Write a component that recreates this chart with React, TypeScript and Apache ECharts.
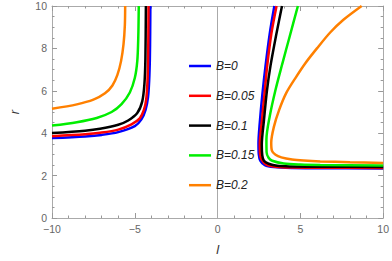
import React, { useEffect, useRef } from "react";
import * as echarts from "echarts";

const names = ["B=0", "B=0.05", "B=0.1", "B=0.15", "B=0.2"];
const colors = ["#0000ff", "#ff0000", "#000000", "#00ee00", "#ff8000"];

const xTicks = [-10, -5, 0, 5, 10];
const yTicks = [0, 2, 4, 6, 8, 10];

// left branches [l, r]
const leftB0 = [[-10, 3.77], [-8, 3.85], [-7, 3.92], [-6, 4.05], [-5, 4.33], [-4.6, 4.65], [-4.35, 5.1], [-4.2, 5.7], [-4.13, 6.5], [-4.09, 7.5], [-4.07, 8.8], [-4.06, 10]];
const leftB005 = [[-10, 3.86], [-8, 3.95], [-7.1, 4.02], [-6, 4.17], [-5.2, 4.42], [-4.7, 4.7], [-4.45, 5.1], [-4.31, 5.6], [-4.23, 6.5], [-4.19, 7.8], [-4.17, 10]];
const leftB01 = [[-10, 4.01], [-8, 4.12], [-7.1, 4.21], [-6, 4.4], [-5.4, 4.6], [-4.85, 4.95], [-4.55, 5.5], [-4.42, 6.3], [-4.36, 7.5], [-4.33, 10]];
const leftB015 = [[-10, 4.36], [-8.5, 4.52], [-7.3, 4.72], [-6.4, 5.0], [-5.8, 5.37], [-5.3, 5.92], [-5.0, 6.6], [-4.85, 7.4], [-4.79, 8.5], [-4.76, 10]];
const leftB02 = [[-10, 5.15], [-8.5, 5.36], [-7.5, 5.58], [-6.8, 5.88], [-6.35, 6.25], [-6.05, 6.75], [-5.83, 7.4], [-5.68, 8.2], [-5.6, 9.1], [-5.58, 10]];

// right branches [l, r]
const rightB0 = [[3.43, 10], [3.15, 8.7], [2.9, 7.2], [2.7, 5.8], [2.55, 4.5], [2.47, 3.5], [2.49, 3.0], [2.58, 2.7], [2.85, 2.49], [3.4, 2.4], [4.5, 2.36], [6, 2.35], [10, 2.34]];
const rightB005 = [[3.56, 10], [3.25, 8.7], [3.0, 7.2], [2.86, 6.07], [2.68, 4.6], [2.55, 3.5], [2.57, 3.0], [2.66, 2.75], [2.95, 2.52], [3.5, 2.42], [4.5, 2.38], [6, 2.37], [10, 2.36]];
const rightB01 = [[3.89, 10], [3.56, 8.72], [3.2, 7.2], [2.98, 6.0], [2.8, 4.6], [2.67, 3.45], [2.7, 2.95], [2.8, 2.7], [3.08, 2.56], [3.6, 2.46], [4.5, 2.43], [6, 2.42], [10, 2.41]];
const rightB015 = [[4.85, 10], [4.35, 8.55], [3.9, 7.25], [3.5, 6.05], [3.15, 4.8], [2.95, 3.7], [2.96, 3.1], [3.08, 2.84], [3.3, 2.7], [4.0, 2.57], [5, 2.52], [6.2, 2.5], [10, 2.48]];
const rightB02 = [[8.7, 10], [7.6, 9.35], [6.8, 8.75], [6.0, 8.0], [5.3, 7.3], [4.7, 6.6], [4.15, 5.9], [3.72, 5.1], [3.4, 4.3], [3.24, 3.55], [3.28, 3.18], [3.5, 2.98], [3.85, 2.86], [4.5, 2.76], [5.2, 2.71], [6.2, 2.67], [8, 2.63], [10, 2.6]];

const leftBranches = [leftB0, leftB005, leftB01, leftB015, leftB02];
const rightBranches = [rightB0, rightB005, rightB01, rightB015, rightB02];

const FONT = "Liberation Sans";

export default function App() {
  const ref = useRef<HTMLDivElement>(null);
  useEffect(() => {
    if (!ref.current) return;
    const chart = echarts.init(ref.current, null, { renderer: "svg" });
    const fmt = (v: number) => (v < 0 ? "\u2212" + Math.abs(v) : String(v));
    const axisCommon = {
      axisLine: { show: true, onZero: false, lineStyle: { color: "#aaaaaa", width: 1 } },
      axisTick: { show: true, inside: true, length: 5, lineStyle: { color: "#999999" } },
      minorTick: { show: true, length: 2.5, lineStyle: { color: "#999999" } },
      splitLine: { show: false },
      minorSplitLine: { show: false },
    };
    const series: any[] = [];
    names.forEach((n, i) => {
      [leftBranches[i], rightBranches[i]].forEach((d, k) => {
        const s: any = {
          name: n,
          type: "line",
          data: d,
          symbol: "none",
          smooth: 0.3,
          lineStyle: { color: colors[i], width: 2.5 },
          itemStyle: { color: colors[i] },
          z: 3 + i,
        };
        if (i === 0 && k === 0) {
          s.markLine = {
            silent: true,
            symbol: "none",
            label: { show: false },
            lineStyle: { color: "#aaaaaa", width: 1, type: "solid" },
            data: [{ xAxis: 0 }],
            z: 1,
          };
        }
        series.push(s);
      });
    });
    chart.setOption({
      animation: false,
      backgroundColor: "#ffffff",
      grid: { left: 40, right: 6, top: 6, bottom: 41 },
      legend: {
        data: names,
        orient: "vertical",
        left: 184,
        top: 55,
        icon: "rect",
        itemWidth: 22,
        itemHeight: 2.5,
        itemGap: 17.8,
        textStyle: { fontFamily: FONT, fontSize: 12, fontStyle: "italic", color: "#222222" },
      },
      xAxis: [
        {
          type: "value",
          min: -10,
          max: 10,
          interval: 5,
          position: "bottom",
          ...axisCommon,
          minorTick: { ...axisCommon.minorTick, splitNumber: 5 },
          axisLabel: { show: true, color: "#666666", fontFamily: FONT, fontSize: 10.5, margin: 5, formatter: fmt },
          name: "l",
          nameLocation: "middle",
          nameGap: 25,
          nameTextStyle: { fontFamily: FONT, fontSize: 13, fontStyle: "italic", color: "#333333" },
        },
        {
          type: "value",
          min: -10,
          max: 10,
          interval: 5,
          position: "top",
          ...axisCommon,
          minorTick: { ...axisCommon.minorTick, splitNumber: 5 },
          axisLabel: { show: false },
        },
      ],
      yAxis: [
        {
          type: "value",
          min: 0,
          max: 10,
          interval: 2,
          position: "left",
          ...axisCommon,
          minorTick: { ...axisCommon.minorTick, splitNumber: 4 },
          axisLabel: { show: true, color: "#666666", fontFamily: FONT, fontSize: 10.5, margin: 5, formatter: fmt },
          name: "r",
          nameLocation: "middle",
          nameGap: 31,
          nameRotate: 90,
          nameTextStyle: { fontFamily: FONT, fontSize: 13, fontStyle: "italic", color: "#333333" },
        },
        {
          type: "value",
          min: 0,
          max: 10,
          interval: 2,
          position: "right",
          ...axisCommon,
          minorTick: { ...axisCommon.minorTick, splitNumber: 4 },
          axisLabel: { show: false },
        },
      ],
      series,
    });
    return () => chart.dispose();
  }, []);
  return <div ref={ref} style={{ width: 392, height: 261, position: "absolute", left: 0, top: 0 }} />;
}
